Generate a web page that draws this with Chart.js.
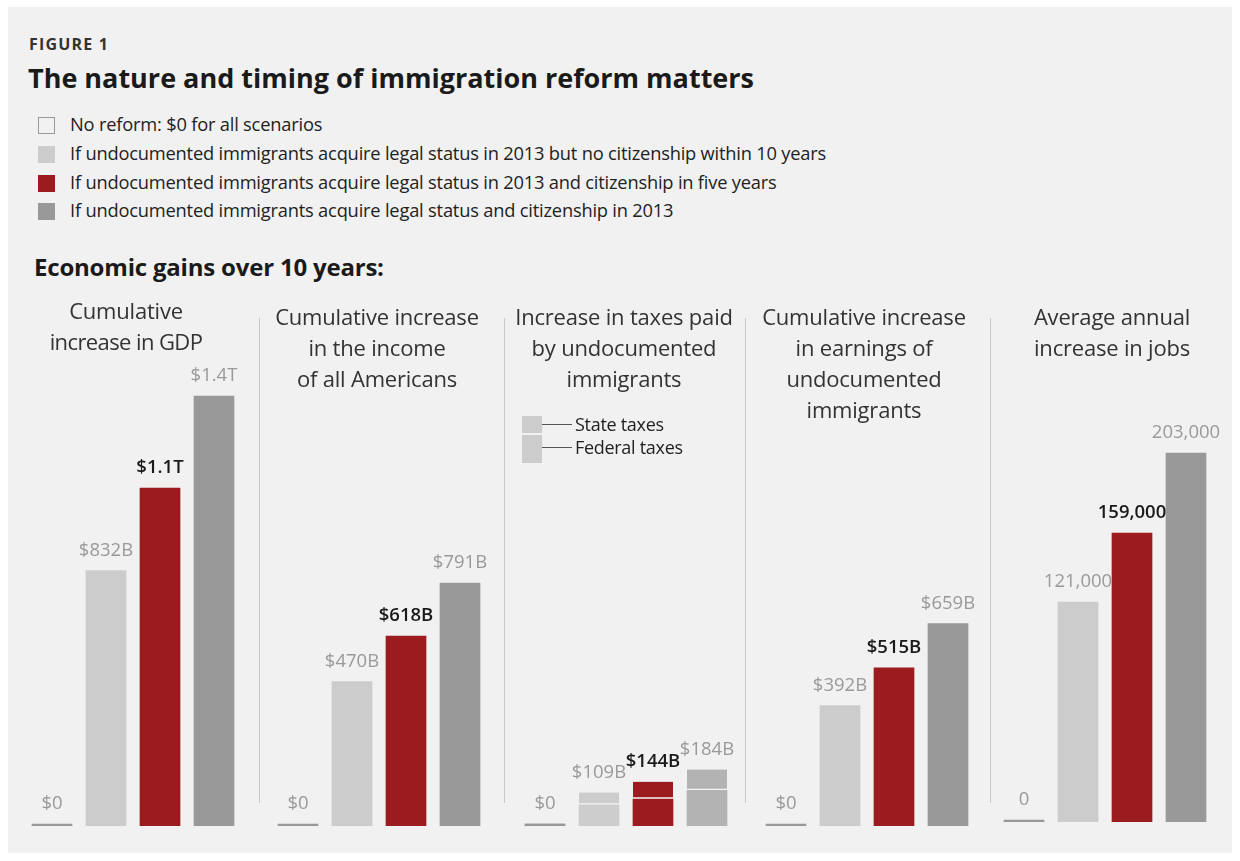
<!DOCTYPE html>
<html>
<head>
<meta charset="utf-8">
<script src="https://cdn.jsdelivr.net/npm/chart.js@4"></script>
<style>
body { margin: 0; background: #fff; font-family: "Open Sans", sans-serif; }
#box { position: absolute; left: 8px; top: 7px; width: 1224px; height: 846px; background: #f1f1f1; }
.t { position: absolute; white-space: nowrap; color: #222; }
.leg { font-size: 18.3px; line-height: 24px; letter-spacing: -0.2px; }
.sq { position: absolute; left: 38px; width: 17px; height: 17px; box-sizing: border-box; }
.ptitle { position: absolute; text-align: center; font-size: 22px; line-height: 31px; color: #333; white-space: nowrap; letter-spacing: -0.2px; }
.sep { position: absolute; top: 318px; height: 485px; width: 1px; background: #c8c8c8; }
canvas { position: absolute; }
</style>
</head>
<body>
<div id="box"></div>

<div class="t" style="left:29px;top:33px;font-size:16px;font-weight:700;letter-spacing:1.2px;color:#333;line-height:22px">FIGURE 1</div>
<div class="t" style="left:28px;top:60px;font-size:27px;font-weight:700;color:#1a1a1a;line-height:36px">The nature and timing of immigration reform matters</div>

<div class="sq" style="top:117px;border:1.5px solid #999"></div>
<div class="sq" style="top:146px;background:#cccccc"></div>
<div class="sq" style="top:175px;background:#9b1b1f"></div>
<div class="sq" style="top:203px;background:#999999"></div>
<div class="t leg" style="left:70px;top:112px">No reform: $0 for all scenarios</div>
<div class="t leg" style="left:70px;top:141px">If undocumented immigrants acquire legal status in 2013 but no citizenship within 10 years</div>
<div class="t leg" style="left:70px;top:170px">If undocumented immigrants acquire legal status in 2013 and citizenship in five years</div>
<div class="t leg" style="left:70px;top:198px">If undocumented immigrants acquire legal status and citizenship in 2013</div>

<div class="t" style="left:34px;top:251px;font-size:24px;font-weight:700;color:#1a1a1a;line-height:32px;letter-spacing:-0.2px">Economic gains over 10 years:</div>

<div class="sep" style="left:259px"></div>
<div class="sep" style="left:504px"></div>
<div class="sep" style="left:745px"></div>
<div class="sep" style="left:990px"></div>

<canvas id="c1" width="256" height="526" style="left:5px;top:300px"></canvas>
<canvas id="c2" width="256" height="526" style="left:251px;top:300px"></canvas>
<canvas id="c3" width="256" height="526" style="left:498px;top:300px"></canvas>
<canvas id="c4" width="256" height="526" style="left:739px;top:300px"></canvas>
<canvas id="c5" width="256" height="522" style="left:977px;top:300px"></canvas>

<div class="ptitle" style="left:26px;width:200px;top:295px">Cumulative<br><span style="letter-spacing:-0.6px">increase in GDP</span></div>
<div class="ptitle" style="left:257px;width:240px;top:301px">Cumulative increase<br>in the income<br>of all Americans</div>
<div class="ptitle" style="left:506px;width:236px;top:301px">Increase in taxes paid<br>by undocumented<br>immigrants</div>
<div class="ptitle" style="left:744px;width:240px;top:301px">Cumulative increase<br>in earnings of<br>undocumented<br>immigrants</div>
<div class="ptitle" style="left:992px;width:240px;top:301px">Average annual<br>increase in jobs</div>

<div style="position:absolute;left:522px;top:416px;width:20px;height:17px;background:#cccccc"></div>
<div style="position:absolute;left:522px;top:435px;width:20px;height:28px;background:#cccccc"></div>
<div style="position:absolute;left:542px;top:424px;width:30px;height:1px;background:#555"></div>
<div style="position:absolute;left:542px;top:447px;width:30px;height:1px;background:#555"></div>
<div class="t" style="left:575px;top:412px;font-size:18px;line-height:24px;letter-spacing:-0.3px">State taxes</div>
<div class="t" style="left:575px;top:435px;font-size:18px;line-height:24px;letter-spacing:-0.3px">Federal taxes</div>

<script>
// scenarios, left to right in every panel
const scenarios = ["No reform", "Legal status, no citizenship", "Legal status, citizenship in five years", "Legal status and citizenship in 2013"];

// $ billions over 10 years
const gdpGain = [0, 832, 1100, 1400];
const incomeGain = [0, 470, 618, 791];
const stateTaxes = [0, 40, 56, 68];
const federalTaxes = [0, 69, 88, 116];
const earningsGain = [0, 392, 515, 659];

// jobs per year
const jobsGain = [0, 121000, 159000, 203000];

const barColors = ["#999999", "#cccccc", "#9b1b1f", "#999999"];
const taxColors = ["#999999", "#cdcdcd", "#9b1b1f", "#b3b3b3"];

const pxPerBillion = 430 / 1400;
const pxPerJob = 369 / 203000;
const sidePad = 20;

function money(v) {
    if (v === 0) return "$0";
    if (v >= 1000) return "$" + (v / 1000).toFixed(1) + "T";
    return "$" + v + "B";
}

const valueLabels = {
    id: "valueLabels",
    afterDatasetsDraw(chart, args, opts) {
        const ctx = chart.ctx;
        for (let i = 0; i < chart.data.labels.length; i++) {
            let top = null, x = null;
            chart.data.datasets.forEach((ds, d) => {
                const el = chart.getDatasetMeta(d).data[i];
                if (top === null || el.y < top) { top = el.y; x = el.x; }
            });
            const strong = i === 2;
            ctx.save();
            ctx.font = (strong ? "600 " : "400 ") + "18.5px 'Open Sans'";
            ctx.fillStyle = strong ? "#1a1a1a" : "#999999";
            ctx.textAlign = "center";
            ctx.textBaseline = "middle";
            ctx.fillText(opts.text[i], x, top - 20);
            ctx.restore();
        }
    }
};

function makeChart(id, datasets, text, perPx, stacked) {
    const canvas = document.getElementById(id);
    new Chart(canvas, {
        type: "bar",
        data: { labels: scenarios, datasets: datasets },
        options: {
            responsive: false,
            animation: false,
            layout: { padding: { left: sidePad, right: sidePad, top: 0, bottom: 0 } },
            plugins: { legend: { display: false }, tooltip: { enabled: false }, valueLabels: { text: text } },
            scales: {
                x: { display: false, stacked: stacked },
                y: { display: false, stacked: stacked, min: 0, max: canvas.height / perPx }
            }
        },
        plugins: [valueLabels]
    });
}

function single(values, colors) {
    return [{ data: values, backgroundColor: colors, barThickness: 40, minBarLength: 2 }];
}

makeChart("c1", single(gdpGain, barColors), gdpGain.map(money), pxPerBillion, false);
makeChart("c2", single(incomeGain, barColors), incomeGain.map(money), pxPerBillion, false);

const taxTotals = federalTaxes.map((v, i) => v + stateTaxes[i]);
makeChart("c3", [
    { label: "Federal taxes", data: federalTaxes, backgroundColor: taxColors, barThickness: 40, minBarLength: 2 },
    { label: "State taxes", data: stateTaxes, backgroundColor: taxColors, barThickness: 40,
      borderColor: "#f4f4f4", borderWidth: { bottom: 2, top: 0, left: 0, right: 0 }, borderSkipped: false }
], taxTotals.map(money), pxPerBillion, true);

makeChart("c4", single(earningsGain, barColors), earningsGain.map(money), pxPerBillion, false);
makeChart("c5", single(jobsGain, barColors), jobsGain.map(v => v.toLocaleString("en-US")), pxPerJob, false);
</script>
</body>
</html>
